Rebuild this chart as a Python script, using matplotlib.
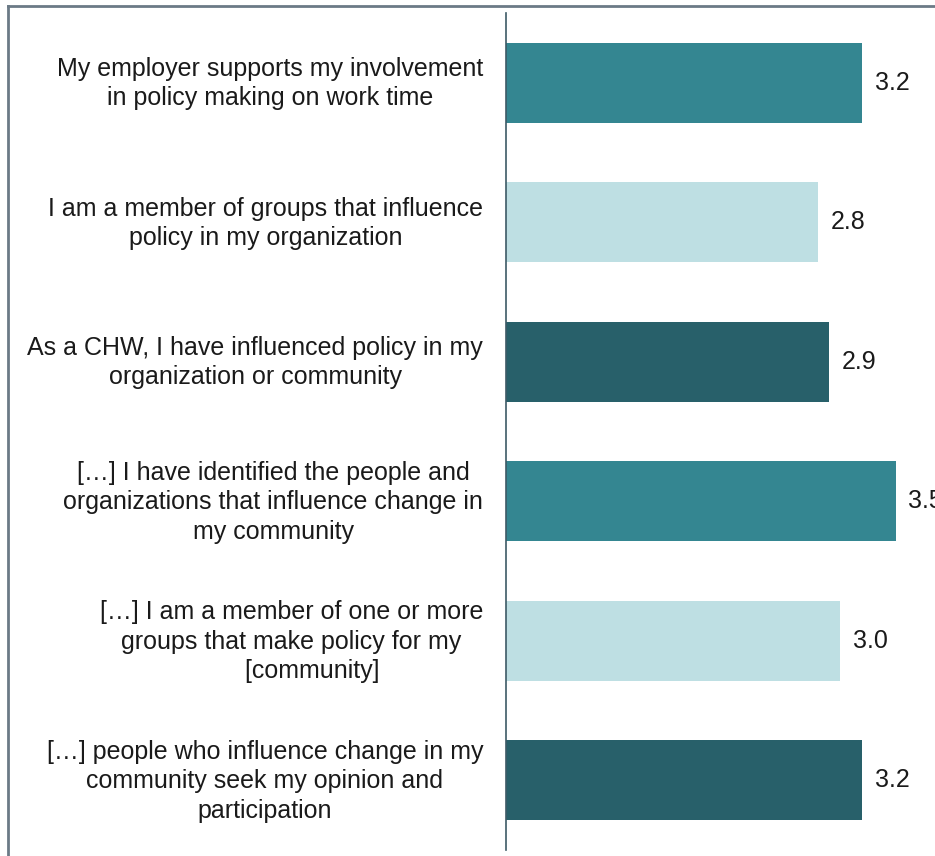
import matplotlib.pyplot as plt
import matplotlib.transforms as mtransforms
from matplotlib.lines import Line2D

labels = [
    "My employer supports my involvement\nin policy making on work time",
    "I am a member of groups that influence\npolicy in my organization",
    "As a CHW, I have influenced policy in my\norganization or community",
    "[…] I have identified the people and\norganizations that influence change in\nmy community",
    "[…] I am a member of one or more\ngroups that make policy for my\n      [community]",
    "[…] people who influence change in my\ncommunity seek my opinion and\nparticipation",
]
values = [3.2, 2.8, 2.9, 3.5, 3.0, 3.2]
colors = ["#348691", "#BEDFE3", "#28606A", "#348691", "#BEDFE3", "#28606A"]

plt.rcParams['font.family'] = ['Liberation Sans', 'DejaVu Sans']

fig = plt.figure(figsize=(9.35, 8.56), dpi=100)
W, H = 935, 856
ax = fig.add_axes([506 / W, 1 - 850 / H, 1 - 506 / W, (850 - 13) / H])

y = list(range(len(values)))
ax.barh(y, values, height=0.575, color=colors)
ax.set_ylim(5.5, -0.5)
ax.set_xlim(0, (W - 506) / 111.3)

for yi, v in zip(y, values):
    ax.text(v + 0.115, yi, f"{v:.1f}", va='center', ha='left', fontsize=18, color='#1a1a1a', clip_on=False)

ax.set_yticks(y)
ax.set_yticklabels(labels, fontsize=18, color='#1a1a1a', multialignment='center', linespacing=1.28)
ax.tick_params(axis='y', length=0, pad=16.5)
# nudge the category labels up a little
shift = mtransforms.ScaledTranslation(0, 3 / 72, fig.dpi_scale_trans)
for lab in ax.get_yticklabels():
    lab.set_transform(lab.get_transform() + shift)
ax.set_xticks([])
for s in ['top', 'right', 'bottom']:
    ax.spines[s].set_visible(False)
ax.spines['left'].set_color('#3d5a66')
ax.spines['left'].set_linewidth(1.2)

# outer frame (top and left only visible)
fig.add_artist(Line2D([8 / W, 1], [1 - 6 / H, 1 - 6 / H], transform=fig.transFigure, color='#6b7a86', lw=2))
fig.add_artist(Line2D([8 / W, 8 / W], [0, 1 - 6 / H], transform=fig.transFigure, color='#6b7a86', lw=2))

fig.savefig('out.png', dpi=100)
